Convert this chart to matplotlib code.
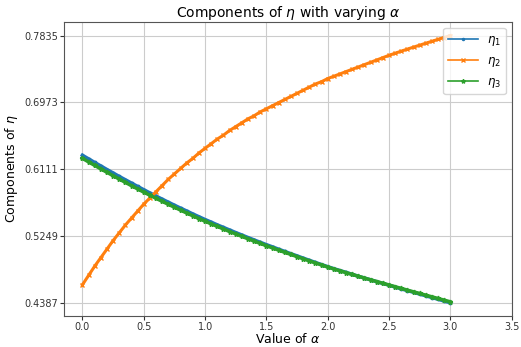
import numpy as np
import matplotlib
matplotlib.use('Agg')
import matplotlib.pyplot as plt

# alpha grid (step 0.05)
alpha = [0.00, 0.05, 0.10, 0.15, 0.20, 0.25, 0.30, 0.35, 0.40, 0.45,
         0.50, 0.55, 0.60, 0.65, 0.70, 0.75, 0.80, 0.85, 0.90, 0.95,
         1.00, 1.05, 1.10, 1.15, 1.20, 1.25, 1.30, 1.35, 1.40, 1.45,
         1.50, 1.55, 1.60, 1.65, 1.70, 1.75, 1.80, 1.85, 1.90, 1.95,
         2.00, 2.05, 2.10, 2.15, 2.20, 2.25, 2.30, 2.35, 2.40, 2.45,
         2.50, 2.55, 2.60, 2.65, 2.70, 2.75, 2.80, 2.85, 2.90, 2.95,
         3.00]

# components
eta1 = [0.6290, 0.6244, 0.6197, 0.6152, 0.6106, 0.6062, 0.6017, 0.5974, 0.5931, 0.5888,
        0.5846, 0.5804, 0.5764, 0.5724, 0.5685, 0.5646, 0.5608, 0.5571, 0.5533, 0.5497,
        0.5461, 0.5427, 0.5392, 0.5359, 0.5326, 0.5293, 0.5261, 0.5229, 0.5198, 0.5167,
        0.5137, 0.5108, 0.5078, 0.5049, 0.5020, 0.4992, 0.4963, 0.4935, 0.4907, 0.4880,
        0.4853, 0.4827, 0.4803, 0.4778, 0.4754, 0.4729, 0.4706, 0.4683, 0.4659, 0.4636,
        0.4613, 0.4590, 0.4566, 0.4544, 0.4522, 0.4499, 0.4477, 0.4454, 0.4432, 0.4409,
        0.4387]

eta2 = [0.462, 0.474, 0.486, 0.497, 0.508, 0.519, 0.529, 0.539, 0.548, 0.557,
        0.566, 0.574, 0.582, 0.590, 0.598, 0.605, 0.612, 0.619, 0.625, 0.632,
        0.638, 0.644, 0.650, 0.655, 0.661, 0.666, 0.671, 0.676, 0.680, 0.685,
        0.689, 0.693, 0.697, 0.701, 0.705, 0.709, 0.713, 0.717, 0.721, 0.724,
        0.728, 0.731, 0.734, 0.737, 0.740, 0.743, 0.746, 0.749, 0.752, 0.755,
        0.758, 0.7607, 0.7634, 0.7660, 0.7686, 0.7711, 0.7736, 0.7761, 0.7786, 0.7810,
        0.7835]

eta3 = [0.6250, 0.6204, 0.6159, 0.6114, 0.6070, 0.6026, 0.5983, 0.5940, 0.5897, 0.5856,
        0.5814, 0.5774, 0.5734, 0.5696, 0.5657, 0.5620, 0.5582, 0.5545, 0.5509, 0.5473,
        0.5439, 0.5405, 0.5372, 0.5339, 0.5306, 0.5275, 0.5243, 0.5213, 0.5182, 0.5153,
        0.5123, 0.5094, 0.5066, 0.5037, 0.5010, 0.4982, 0.4955, 0.4927, 0.4901, 0.4874,
        0.4847, 0.4823, 0.4799, 0.4776, 0.4752, 0.4729, 0.4706, 0.4683, 0.4661, 0.4638,
        0.4617, 0.4594, 0.4572, 0.4550, 0.4528, 0.4507, 0.4485, 0.4464, 0.4442, 0.4421,
        0.4399]

x_ticks = [0.0, 0.5, 1.0, 1.5, 2.0, 2.5, 3.0, 3.5]

fig = plt.figure(figsize=(5.21, 3.47), dpi=100)
ax = fig.add_axes([0.123, 0.089, 0.859, 0.847])

ax.plot(alpha, eta1, marker='.', markersize=3.5, lw=2.5, label=r'$\eta_1$')
ax.plot(alpha, eta2, marker='x', markersize=2.5, lw=2.2, mew=1, label=r'$\eta_2$')
ax.plot(alpha, eta3, marker='*', markersize=3.5, lw=2.5, label=r'$\eta_3$')

# y ticks evenly spaced between the overall min and max
all_vals = np.concatenate([eta1, eta2, eta3])
y_ticks = np.linspace(all_vals.min(), all_vals.max(), 5)
ax.set_yticks(y_ticks)
ax.set_yticklabels(['%.4f' % v for v in y_ticks])
ax.set_xticks(x_ticks)
ax.set_xlim(-0.15, 3.5)

ax.tick_params(labelsize=7, colors='#333333', length=3, pad=1.5)
for s in ax.spines.values():
    s.set_color('#555555')
ax.grid(True, color='#cccccc', linewidth=0.8)

ax.set_title(r'Components of $\eta$ with varying $\alpha$', fontsize=10, pad=4)
ax.set_xlabel(r'Value of $\alpha$', fontsize=9, labelpad=0)
ax.set_ylabel(r'Components of $\eta$', fontsize=9, labelpad=3)

# legend handles drawn thin like the reference
leg = ax.legend(loc='upper right', fontsize=8.5, handlelength=2.5)
for h in leg.get_lines():
    h.set_linewidth(1.2)
    h.set_markersize(3)

fig.savefig('out.png', dpi=100)
